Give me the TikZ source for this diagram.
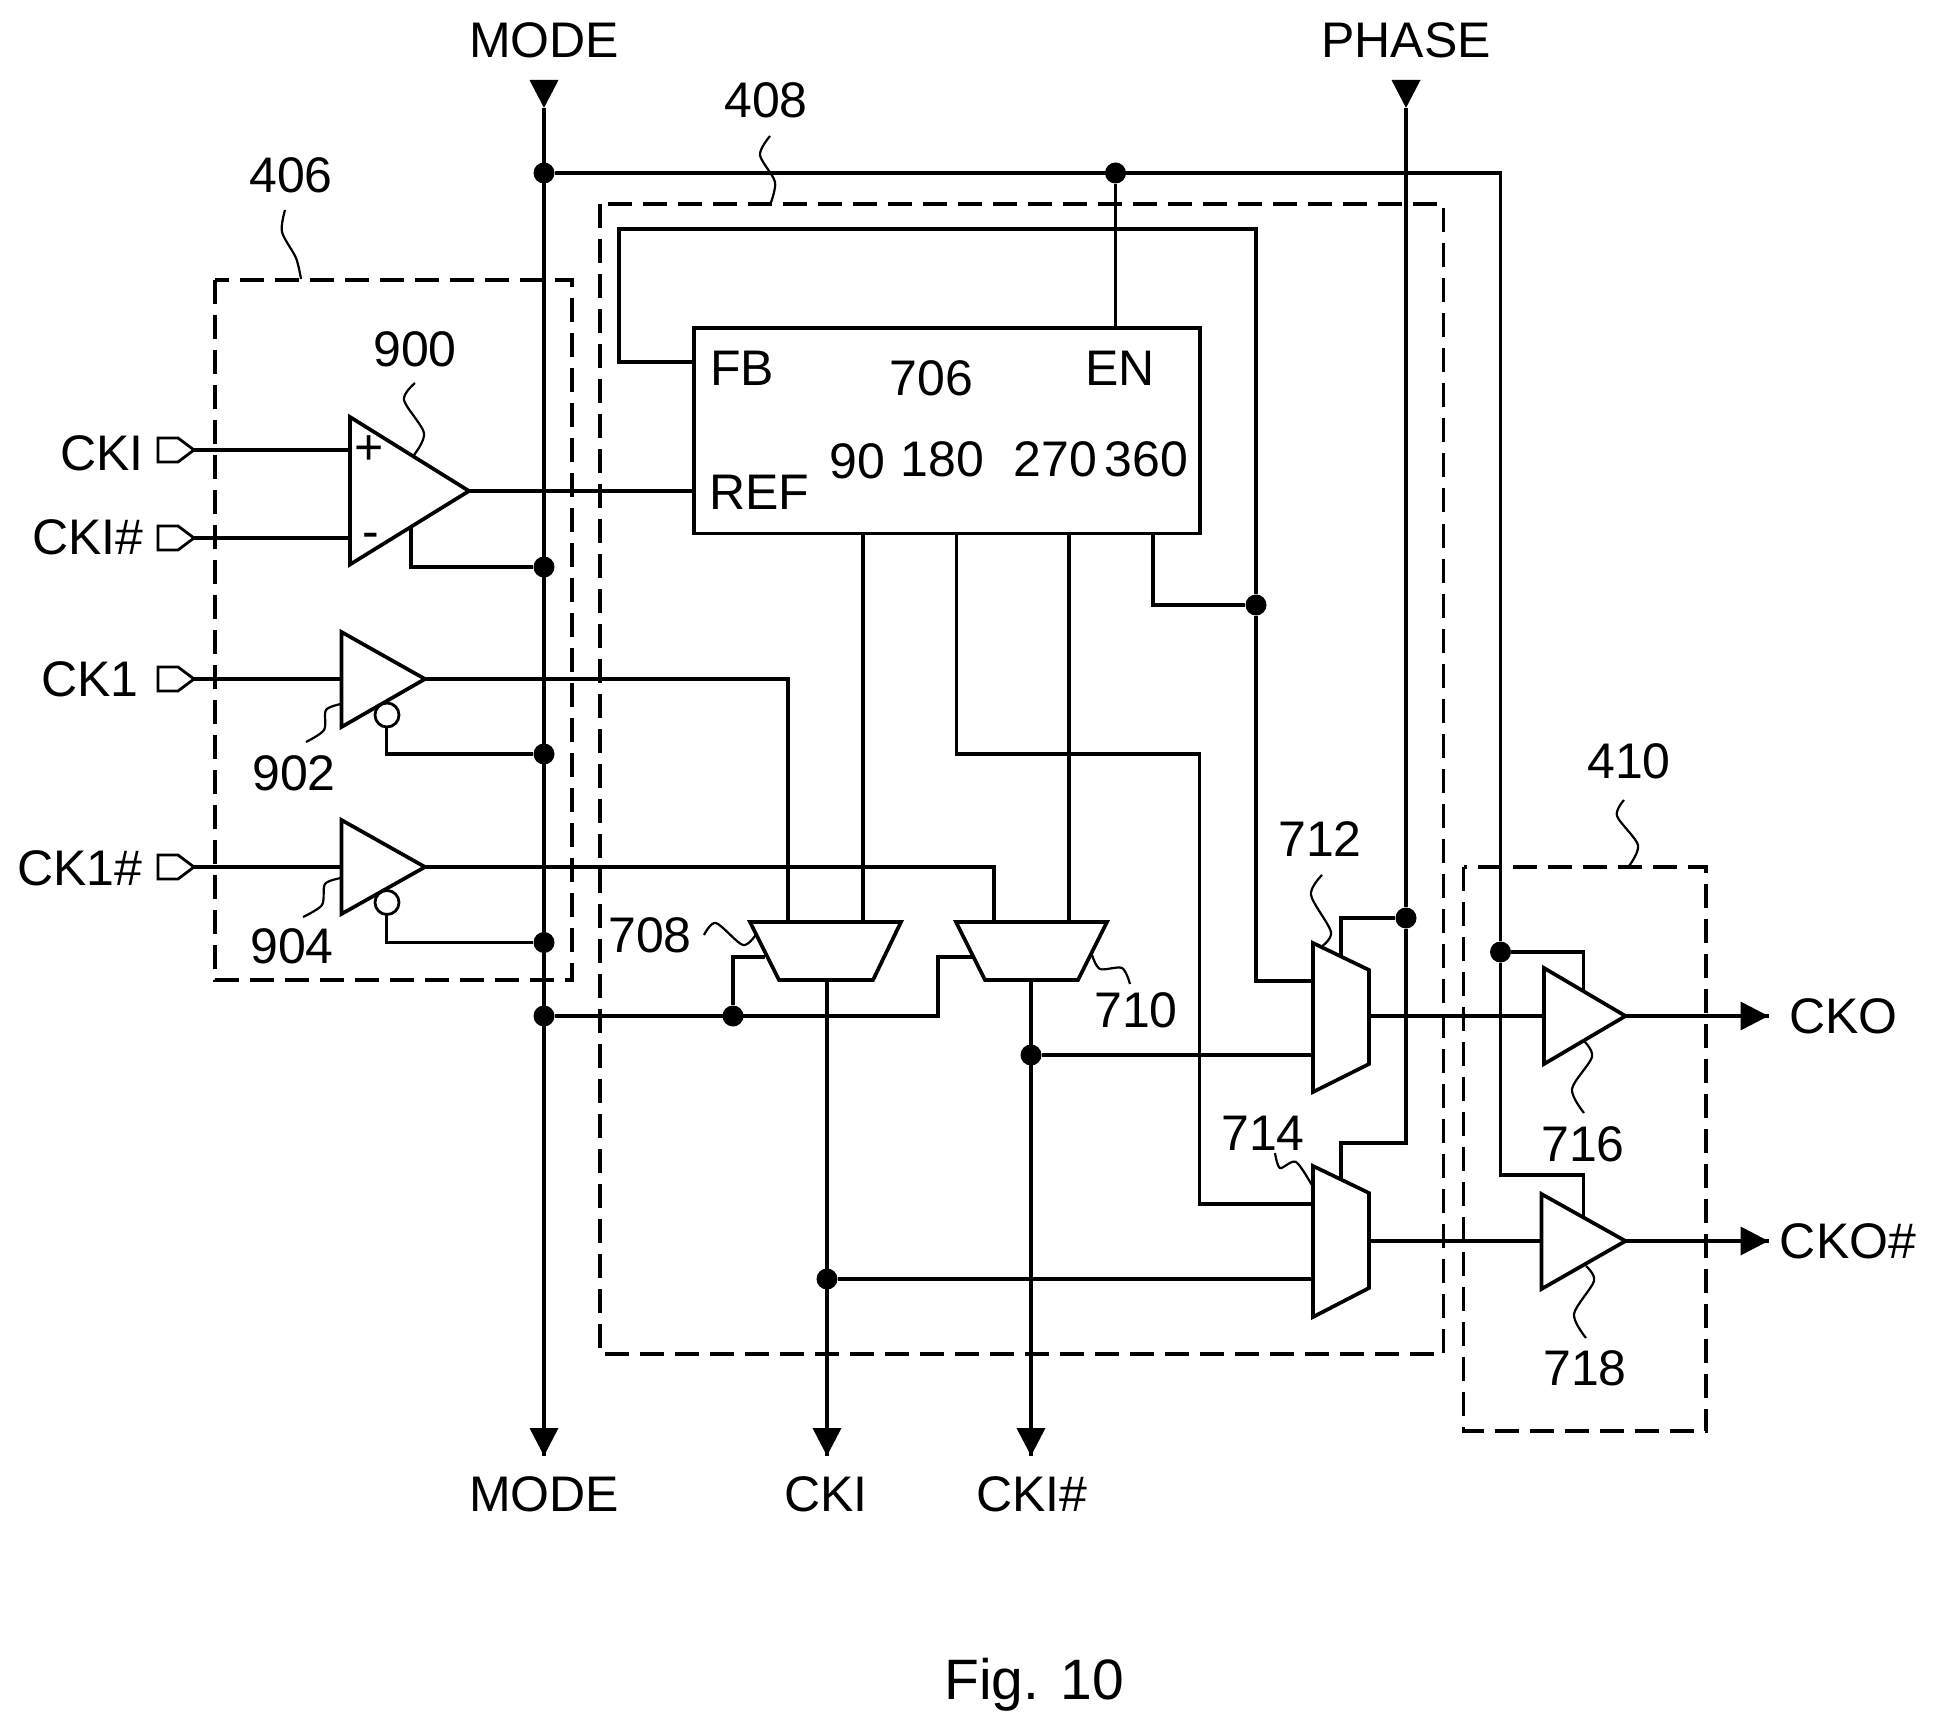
\documentclass[tikz,border=0pt]{standalone}
\usepackage{fontspec}
\setmainfont{Liberation Sans}
\usetikzlibrary{arrows.meta,calc}

\begin{document}
\begin{tikzpicture}[
    x=0.5pt,
    y=-0.5pt,
    wire/.style ={
        line width=1.85pt,
        line join=miter
    },
    tip/.style ={
        line width=1.85pt,
        -{Triangle[length=14pt,width=14pt]}
    },
    dot/.style ={
        circle,
        fill=black,
        inner sep=0pt,
        minimum size=10.5pt
    },
    bubble/.style ={
        circle,
        draw=black,
        fill=white,
        line width=1.4pt,
        inner sep=0pt,
        minimum size=12pt
    },
    grp/.style ={
        draw=black,
        line width=1.6pt,
        dash pattern=on 12pt off 5.5pt
    },
    squig/.style ={
        line width=1.1pt
    },
    lbl/.style ={
        inner sep=0pt,
        font=\fontsize{25}{28}\selectfont
    }
    ]
    \useasboundingbox (0,0) rectangle (1934,1733);

    % dashed groups
    \draw[grp] (215,280) rectangle (572,980);
    \draw[grp] (600,204) rectangle (1443.5,1354);
    \draw[grp] (1463.5,867) rectangle (1706,1431);

    % pins
    \foreach \x/ \pos in {{fbpin/(694,362)}, {refpin/(694,491)}, {enpin/(1115.5,328)}, {p90/(863,534)}, {p180/(956.5,534)},
                          {p270/(1069,534)}, {p360/(1153,534)},
                          {ampa/(350,450)}, {ampb/(350,538)}, {ampc/(469,491)}, {amppw/(411,526)},
                          {bufa/(341.5,679)}, {bufb/(425,679)}, {bufc/(341.5,867)}, {bufd/(425,867)},
                          {mxaa/(788,922)}, {mxab/(863,922)}, {mxas/(765,957)}, {mxao/(827,980)},
                          {mxba/(994,922)}, {mxbb/(1069,922)}, {mxbs/(973,957)}, {mxbo/(1031,980)},
                          {mxca/(1313,981)}, {mxcb/(1313,1055)}, {mxcs/(1341,957)}, {mxco/(1369,1016)},
                          {mxda/(1313,1204)}, {mxdb/(1313,1279)}, {mxds/(1341,1180)}, {mxdo/(1369,1241)},
                          {outa/(1544,1016)}, {outb/(1625.5,1016)}, {outc/(1541.5,1241)}, {outd/(1625.5,1241)},
                          {outapw/(1583.5,990)}, {outbpw/(1583.5,1218)},
                          {modein/(544,86)}, {modepin/(544,108)}, {modeout/(544,1456)},
                          {phasein/(1406,86)}, {phasepin/(1406,108)},
                          {ckiout/(827,1456)}, {ckibout/(1031,1456)}, {ckoout/(1768.5,1016)}, {ckobout/(1768.5,1241)}}
        \node[coordinate] (\x) at \pos {};

    % blocks
    \node[draw=black,line width=1.85pt,minimum width=253.2pt,minimum height=102.9pt,inner sep=0pt] (pll) at (947,430.6) {};
    \draw[wire] (350,417) -- (469,491) -- (350,564.5) -- cycle;
    \draw[wire] (341.5,632) -- (425,679) -- (341.5,727) -- cycle;
    \draw[wire] (341.5,820) -- (425,867) -- (341.5,914) -- cycle;
    \draw[wire] (750,922) -- (901,922) -- (873,980) -- (779,980) -- cycle;
    \draw[wire] (956,922) -- (1107,922) -- (1078,980) -- (985,980) -- cycle;
    \draw[wire] (1313,943) -- (1369,970) -- (1369,1064) -- (1313,1092) -- cycle;
    \draw[wire] (1313,1166) -- (1369,1193) -- (1369,1288) -- (1313,1317) -- cycle;
    \draw[wire] (1544,968) -- (1625.5,1016) -- (1544,1064) -- cycle;
    \draw[wire] (1541.5,1194) -- (1625.5,1241) -- (1541.5,1289) -- cycle;

    % input ports
    \foreach \x/ \yy/ \txt/ \tx/ \ty in {cki/450/CKI/144/453, ckib/538/CKI\#/144/537, cka/679/CK1/139/679, ckb/867/CK1\#/143/868}{
        \coordinate (\x) at (194,\yy);
        \draw[line width=1.4pt] (158,\yy-12) -- (178,\yy-12) -- (\x) -- (178,\yy+12) -- (158,\yy+12) -- cycle;
        \node[lbl,anchor=east] (\x txt) at (\tx,\ty) {\txt};
    }

    % junctions
    \foreach \x/ \pos in {{ja/(544,173)}, {jb/(1115.5,173)}, {jc/(544,567)}, {jd/(544,754)}, {je/(544,942.5)}, {jf/(544,1016)},
                          {jg/(733,1016)}, {jh/(1031,1055)}, {ji/(827,1279)}, {jj/(1256,605)}, {jk/(1406,918)}, {jl/(1500.5,952)}}
        \node[dot] (\x) at \pos {};

    % straight wires
    \foreach \src/ \dst in {modepin/modeout, ja/jb, jb/enpin, cki/ampa, ckib/ampb, cka/bufa, ckb/bufc, ampc/refpin,
                            p90/mxab, p270/mxbb, mxao/ckiout, mxbo/ckibout, jh/mxcb, ji/mxdb, mxco/outa, mxdo/outc,
                            outb/ckoout, outd/ckobout, phasepin/jk}
        \draw[wire] (\src) -- (\dst);
    \draw[tip] (modein) -- (modepin);
    \draw[tip] (phasein) -- (phasepin);
    \draw[tip] ($(modeout)+(0,-28)$) -- (modeout);
    \draw[tip] ($(ckiout)+(0,-28)$) -- (ckiout);
    \draw[tip] ($(ckibout)+(0,-28)$) -- (ckibout);
    \draw[tip] ($(ckoout)+(-28,0)$) -- (ckoout);
    \draw[tip] ($(ckobout)+(-28,0)$) -- (ckobout);

    % elbows
    \draw[wire] (ja) -| (jl);
    \draw[wire] (jl) -- (1500.5,1175) -| (outbpw);
    \draw[wire] (jl) -| (outapw);
    \draw[wire] (fbpin) -| (619,229) -| (jj);
    \draw[wire] (jj) |- (mxca);
    \draw[wire] (p360) |- (jj);
    \draw[wire] (p180) |- (1199.5,754) |- (mxda);
    \draw[wire] (bufb) -| (mxaa);
    \draw[wire] (bufd) -| (mxba);
    \draw[wire] (amppw) |- (jc);
    \draw[wire] (386.5,715) |- (jd);
    \draw[wire] (386.5,902.5) |- (je);
    \draw[wire] (jg) |- (mxas);
    \draw[wire] (jf) -| (938,957) -- (mxbs);
    \draw[wire] (jk) -| (mxcs);
    \draw[wire] (jk) -- (1406,1143) -| (mxds);
    \node[bubble] (bubb) at (387,715) {};
    \node[bubble] (bubc) at (387,902.5) {};

    % leaders
    \draw[squig] plot[smooth] coordinates {(285,210) (282,232) (296,258) (301,279)};
    \draw[squig] plot[smooth] coordinates {(770,136) (760,155) (775,182) (770,205)};
    \draw[squig] plot[smooth] coordinates {(415,383) (404,400) (424,433) (414,455)};
    \draw[squig] plot[smooth] coordinates {(341,704) (326,710) (324,730) (306,742)};
    \draw[squig] plot[smooth] coordinates {(341,878) (325,884) (322,905) (303,917)};
    \draw[squig] plot[smooth] coordinates {(704,935) (716,923) (743,945) (757,933)};
    \draw[squig] plot[smooth] coordinates {(1092,955) (1100,969) (1122,968) (1130,984)};
    \draw[squig] plot[smooth] coordinates {(1322,875) (1311,895) (1331,932) (1321,947)};
    \draw[squig] plot[smooth] coordinates {(1275,1153) (1280,1168) (1296,1162) (1313,1187)};
    \draw[squig] plot[smooth] coordinates {(1584,1041) (1592,1057) (1572,1089) (1584,1113)};
    \draw[squig] plot[smooth] coordinates {(1586,1266) (1594,1281) (1574,1314) (1586,1338)};
    \draw[squig] plot[smooth] coordinates {(1629,866) (1638,845) (1617,816) (1624,800)};

    % labels
    \foreach \x/ \pos/ \txt in {{lmodea/(544,40)/MODE}, {lphase/(1406,40)/PHASE}, {lmodeb/(544,1494)/MODE},
                                {lckia/(826,1494)/CKI}, {lckib/(1032,1494)/CKI\#}, {lcko/(1843.5,1016)/CKO}, {lckob/(1848,1241)/CKO\#},
                                {lb/(766,100)/408}, {la/(291,175)/406}, {lc/(1629,761)/410}, {lnine/(415,349)/900},
                                {lbuf/(294,773)/902}, {lbufb/(292,946)/904}, {lfb/(742,368)/FB}, {lpll/(931.5,378)/706},
                                {len/(1120,368)/EN}, {lref/(759,492)/REF}, {ln/(857,461)/90}, {lo/(942.5,459)/180},
                                {lp/(1055.5,459)/270}, {lq/(1146.5,459)/360}, {lmxa/(650,935)/708}, {lmxb/(1136,1010)/710},
                                {lmxc/(1320,839)/712}, {lmxd/(1263,1133)/714}, {lr/(1583,1144)/716}, {ls/(1585,1368)/718},
                                {lplus/(369,450)/+}, {lminus/(371,541)/-}}
        \node[lbl] (\x) at \pos {\txt};
    \node[lbl,font=\fontsize{28.5}{32}\selectfont] (fig) at (1034,1685) {Fig. 10};
\end{tikzpicture}
\end{document}
